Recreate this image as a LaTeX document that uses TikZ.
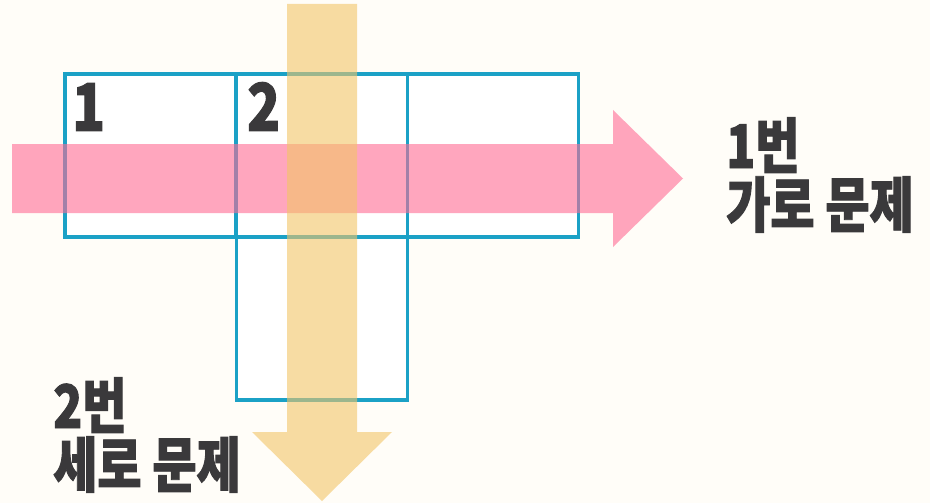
\documentclass[tikz,border=0pt]{standalone}
\usepackage{fontspec}
\newfontfamily\kr{Noto Sans CJK KR}[FakeStretch=0.8, BoldFeatures={FakeBold=1.5}]
\newfontfamily\krd{Noto Sans CJK KR}[FakeStretch=0.82, BoldFeatures={FakeBold=1.5}]
\definecolor{bgc}{RGB}{255,253,248}
\definecolor{cellc}{RGB}{27,161,198}
\definecolor{pinkc}{RGB}{255,107,148}
\definecolor{yelc}{RGB}{242,197,103}
\definecolor{txtc}{RGB}{58,57,59}
\tikzset{
  cell/.style={draw=cellc, fill=white, line width=3.5pt, inner sep=0pt, outer sep=0pt,
    minimum width=171pt, minimum height=163pt},
  digit/.style={text=txtc, font=\krd\bfseries\fontsize{66}{66}\selectfont, anchor=base west, inner sep=0pt},
  label/.style={text=txtc, font=\kr\bfseries\fontsize{60}{59}\selectfont, anchor=base west, inner sep=0pt, align=left},
  band/.style={opacity=0.6}
}
\begin{document}
\begin{tikzpicture}[x=1pt,y=-1pt]
\fill[bgc] (0,0) rectangle (930,503);
\useasboundingbox (0,0) rectangle (930,503);
% cells
\node[cell] (c1) at (150.5,155.5) {};
\node[cell] (c2) at (322,155.5) {};
\node[cell] (c3) at (493,155.5) {};
\node[cell] (c4) at (322,318.5) {};
\node[digit] (d1) at (72,131) {1};
\node[digit] (d2) at (247,131) {2};
% horizontal arrow
\fill[pinkc, band] (12,144) -- (613,144) -- (613,110) -- (683,178.5) -- (613,247) -- (613,213) -- (12,213) -- cycle;
% vertical arrow
\fill[yelc, band] (287,4) -- (357,4) -- (357,432) -- (392,432) -- (322,501) -- (252,432) -- (287,432) -- cycle;
% labels
\node[label] (l1) at (726,227) {1번\\[0pt]가로 문제};
\node[label] (l2) at (53,487) {2번\\[0pt]세로 문제};
\end{tikzpicture}
\end{document}
